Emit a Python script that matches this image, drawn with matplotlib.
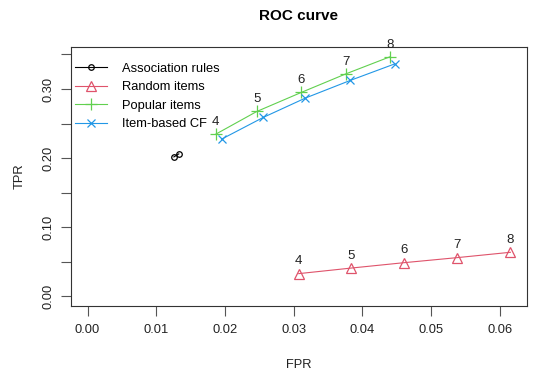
import matplotlib
matplotlib.use("Agg")
import matplotlib.pyplot as plt
import numpy as np

# ROC data (FPR, TPR) for n = 4..8 recommendations
n_items = [4, 5, 6, 7, 8]

assoc_fpr = [0.01256, 0.01328]
assoc_tpr = [0.2016, 0.2060]

random_fpr = [0.03074, 0.03841, 0.04612, 0.05383, 0.06155]
random_tpr = [0.0326, 0.0407, 0.0485, 0.0558, 0.0635]

popular_fpr = [0.01867, 0.02463, 0.03113, 0.03758, 0.04399]
popular_tpr = [0.2346, 0.2674, 0.2951, 0.3218, 0.3465]

ibcf_fpr = [0.0195, 0.02555, 0.03172, 0.03827, 0.04471]
ibcf_tpr = [0.2273, 0.2587, 0.2869, 0.3125, 0.3363]

x_ticks = [0.00, 0.01, 0.02, 0.03, 0.04, 0.05, 0.06]
y_ticks = [0.00, 0.05, 0.10, 0.15, 0.20, 0.25, 0.30, 0.35]

plt.rcParams['font.family'] = ['Liberation Sans', 'DejaVu Sans']
plt.rcParams['font.size'] = 9.3

fig = plt.figure(figsize=(5.45, 3.82), dpi=100)
ax = fig.add_axes([0.1297, 0.1997, 0.9675 - 0.1297, 0.8762 - 0.1997])

lw = 0.8
ax.plot(assoc_fpr, assoc_tpr, color='black', lw=lw, marker='o', ms=4,
        mfc='none', mew=0.9, label='Association rules')
ax.plot(random_fpr, random_tpr, color='#DF536B', lw=lw, marker='^', ms=6.5,
        mfc='none', mew=0.9, label='Random items')
ax.plot(popular_fpr, popular_tpr, color='#61D04F', lw=lw, marker='+', ms=8,
        mew=0.9, label='Popular items')
ax.plot(ibcf_fpr, ibcf_tpr, color='#2297E6', lw=lw, marker='x', ms=5.5,
        mew=0.9, label='Item-based CF')

# annotations for random & popular
for xs, ys in [(random_fpr, random_tpr), (popular_fpr, popular_tpr)]:
    for n, x, y in zip(n_items, xs, ys):
        ax.annotate(str(n), (x, y), xytext=(0, 4.5), textcoords='offset points',
                    ha='center', va='bottom', fontsize=9.5, color='#222222')

xmin, xmax = 0.0, max(random_fpr)
ymin, ymax = 0.0, max(popular_tpr)
ax.set_xlim(xmin - 0.04 * (xmax - xmin), xmax + 0.04 * (xmax - xmin))
ax.set_ylim(ymin - 0.04 * (ymax - ymin), ymax + 0.04 * (ymax - ymin))

ax.set_xticks(x_ticks)
ax.set_xticklabels(['%.2f' % v for v in x_ticks])
ax.set_yticks(y_ticks)
ax.set_yticklabels(['%.2f' % v if i % 2 == 0 else '' for i, v in enumerate(y_ticks)],
                   rotation=90, va='center')

ax.tick_params(axis='both', length=7, width=0.8, color='#555555',
               labelcolor='#222222')
ax.tick_params(axis='x', pad=6)
ax.tick_params(axis='y', pad=5)
for s in ax.spines.values():
    s.set_linewidth(0.8)
    s.set_color('#333333')

ax.set_xlabel('FPR', labelpad=17, color='#222222')
ax.set_ylabel('TPR', labelpad=12, color='#222222')
ax.set_title('ROC curve', fontweight='bold', fontsize=11, pad=20)

ax.legend(loc='upper left', bbox_to_anchor=(75 / 545, 1 - 62.5 / 382),
          bbox_transform=fig.transFigure, frameon=False, borderpad=0,
          borderaxespad=0, handlelength=2.45, handletextpad=1.15,
          labelspacing=0.5, fontsize=9.3)

fig.savefig('out.png', dpi=100)
